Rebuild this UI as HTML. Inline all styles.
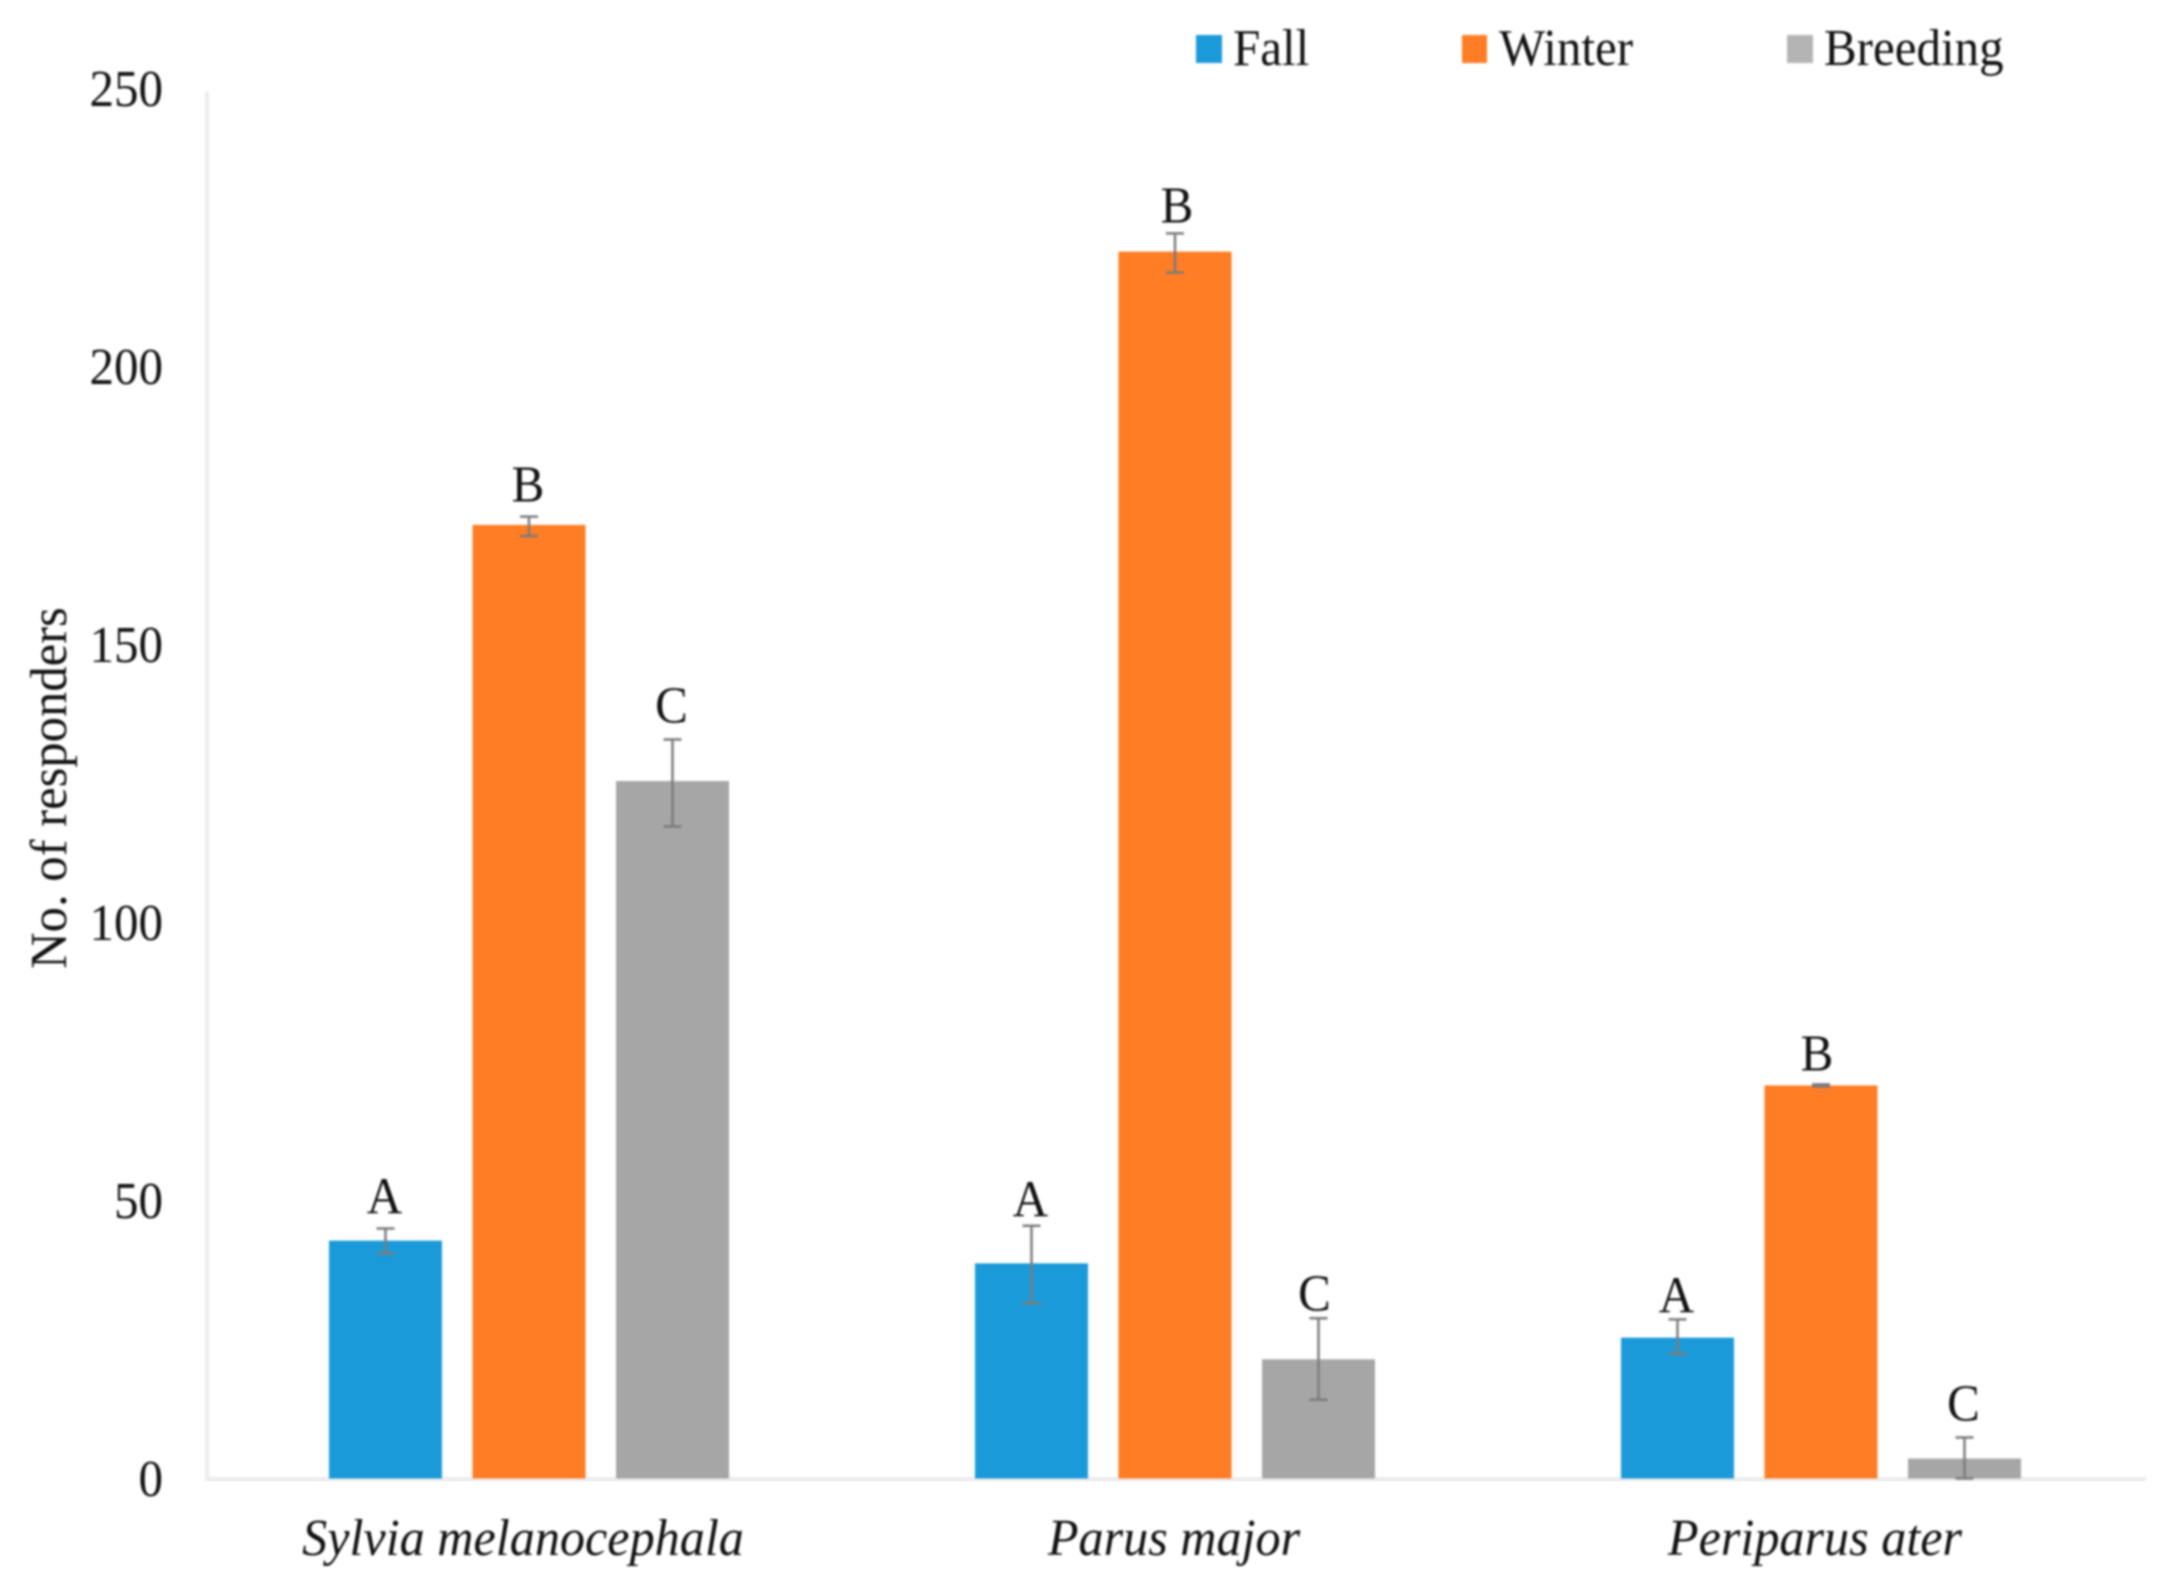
<!DOCTYPE html>
<html lang="en">
<head>
<meta charset="utf-8">
<title>No. of responders by season</title>
<style>
html,body{margin:0;padding:0;background:#fff;width:2177px;height:1582px;overflow:hidden}
svg{display:block;filter:blur(1.1px)}
text{font-family:"Liberation Serif","Times New Roman",serif;fill:#111;font-size:49px}
</style>
</head>
<body>
<svg id="chart" xmlns="http://www.w3.org/2000/svg" width="2177" height="1582" viewBox="0 0 2177 1582">
  <rect x="0" y="0" width="2177" height="1582" fill="#ffffff"/>
  <line x1="207" y1="92" x2="207" y2="1479" stroke="#ececec" stroke-width="4"/>
  <line x1="205" y1="1479" x2="2146" y2="1479" stroke="#ececec" stroke-width="4"/>
  <text style="font-size:50.7px" transform="translate(66,969) rotate(-90) scale(1,1.03)">No. of responders</text>
  <g>
    <g>
      <rect x="1196" y="35" width="26" height="28" fill="#1a9ad9"/>
      <text transform="translate(1233,65) scale(1,1.06)">Fall</text>
    </g>
    <g>
      <rect x="1462" y="35" width="25" height="28" fill="#ff7d24"/>
      <text transform="translate(1499,65) scale(1,1.06)">Winter</text>
    </g>
    <g>
      <rect x="1787" y="35" width="26" height="28" fill="#b4b4b4"/>
      <text transform="translate(1824,65) scale(1,1.06)">Breeding</text>
    </g>
  </g>
  <g id="ticks"></g>
  <g id="bars"></g>
  <g id="errors"></g>
  <g id="letters"></g>
  <g id="cats"></g>
</svg>
<script>
const categories = ["Sylvia melanocephala", "Parus major", "Periparus ater"];
const seriesNames = ["Fall", "Winter", "Breeding"];
const fallValues = [42.9, 38.8, 25.4];
const winterValues = [172, 221.3, 70.9];
const breedingValues = [125.8, 21.5, 3.6];
const fallUpper = [45.1, 45.6, 28.7];
const fallLower = [40.6, 31.6, 22.5];
const winterUpper = [173.5, 224.6, 71.1];
const winterLower = [170, 217.5, 70.7];
const breedingUpper = [133.3, 28.9, 7.4];
const breedingLower = [117.6, 14.2, 0];
const fallLetters = ["A", "A", "A"];
const winterLetters = ["B", "B", "B"];
const breedingLetters = ["C", "C", "C"];
const tickLabels = [0, 50, 100, 150, 200, 250];

const seriesValues = [fallValues, winterValues, breedingValues];
const seriesUpper = [fallUpper, winterUpper, breedingUpper];
const seriesLower = [fallLower, winterLower, breedingLower];
const seriesLetters = [fallLetters, winterLetters, breedingLetters];
const seriesColors = ["#1a9ad9", "#ff7d24", "#a6a6a6"];

const NS = "http://www.w3.org/2000/svg";
const yZero = 1478.5, yPerUnit = 5.544;
const groupStart = 529, groupStep = 646, barStep = 143.5, barWidth = 113;
function yScale(v) { return yZero - v * yPerUnit; }
function xScale(groupIndex, seriesIndex) { return groupStart + groupIndex * groupStep + (seriesIndex - 1) * barStep; }
function tickBaseline(v) { return 1496 - v * 5.56; }
function letterShiftX(s, g) {
  if (s === 1 && g === 1) return 3;
  if (s === 2 && g === 1) return -3;
  if (s === 1 && g === 2) return -3;
  return 0;
}
function letterShiftY(s, g) {
  if (g === 0) return s === 2 ? -6 : -4;
  if (g === 1) return s === 0 ? 2 : (s === 2 ? 3 : 0);
  return s === 0 ? 4 : (s === 1 ? -3 : -6);
}
function make(parentId, tag) {
  const node = document.createElementNS(NS, tag);
  document.getElementById(parentId).appendChild(node);
  return node;
}

tickLabels.forEach(function (t) {
  const label = make("ticks", "text");
  
  
  label.setAttribute("text-anchor", "end");
  label.setAttribute("transform", "translate(163," + tickBaseline(t) + ") scale(1,1.06)");
  label.textContent = String(t);
});

seriesValues.forEach(function (values, s) {
  values.forEach(function (v, g) {
    const cx = xScale(g, s);
    const bar = make("bars", "rect");
    
    
    bar.setAttribute("x", cx - barWidth / 2);
    bar.setAttribute("y", yScale(v));
    bar.setAttribute("width", barWidth);
    bar.setAttribute("height", yScale(0) - yScale(v));
    bar.setAttribute("fill", seriesColors[s]);

    const top = yScale(seriesUpper[s][g]);
    const bottom = yScale(seriesLower[s][g]);

    const stem = make("errors", "line");
    
    
    stem.setAttribute("x1", cx);
    stem.setAttribute("x2", cx);
    stem.setAttribute("y1", top);
    stem.setAttribute("y2", bottom);
    stem.setAttribute("stroke", "#7c7c7c");
    stem.setAttribute("stroke-width", "2.5");

    const capTop = make("errors", "line");
    
    
    capTop.setAttribute("x1", cx - 9);
    capTop.setAttribute("x2", cx + 9);
    capTop.setAttribute("y1", top);
    capTop.setAttribute("y2", top);
    capTop.setAttribute("stroke", "#7c7c7c");
    capTop.setAttribute("stroke-width", "2.5");

    const capBottom = make("errors", "line");
    
    
    capBottom.setAttribute("x1", cx - 9);
    capBottom.setAttribute("x2", cx + 9);
    capBottom.setAttribute("y1", bottom);
    capBottom.setAttribute("y2", bottom);
    capBottom.setAttribute("stroke", "#7c7c7c");
    capBottom.setAttribute("stroke-width", "2.5");

    const letter = make("letters", "text");
    
    
    letter.setAttribute("text-anchor", "middle");
    letter.setAttribute("transform", "translate(" + (cx - 1 + letterShiftX(s, g)) + "," + (top - 11 + letterShiftY(s, g)) + ") scale(1,1.06)");
    letter.textContent = seriesLetters[s][g];
  });
});

categories.forEach(function (name, g) {
  const label = make("cats", "text");
  
  
  label.setAttribute("text-anchor", "middle");
  label.setAttribute("font-style", "italic");
  label.setAttribute("style", "font-size:50.2px");
  label.setAttribute("transform", "translate(" + (xScale(g, 1) + (g === 1 ? -1 : -6)) + ",1555) scale(1,1.04)");
  label.textContent = name;
});
</script>
</body>
</html>
